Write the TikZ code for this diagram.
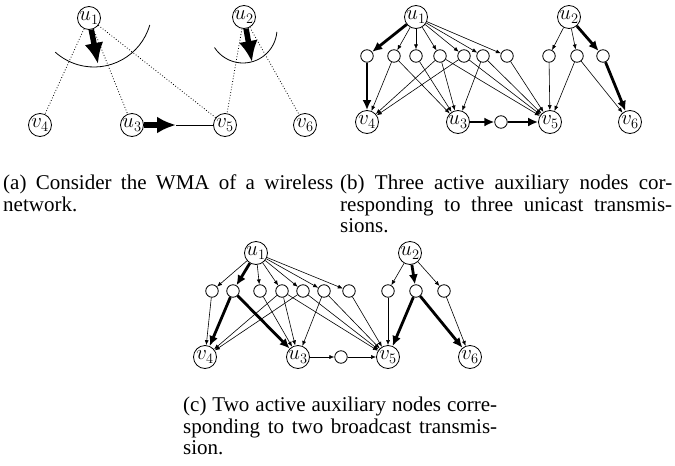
\documentclass[tikz,border=0pt]{standalone}
\usepackage[no-math]{fontspec}
\setmainfont{Liberation Serif}
\usetikzlibrary{arrows.meta}
\begin{document}
\begin{tikzpicture}[x=1pt,y=-1pt,
  mn/.style={circle, draw, line width=0.8pt, minimum size=23pt, inner sep=0pt, font=\fontsize{21}{22}\selectfont},
  ax/.style={circle, draw, line width=0.8pt, minimum size=12.5pt, inner sep=0pt},
  ed/.style={line width=0.6pt, -{Latex[length=5pt,width=4pt]}},
  tk/.style={line width=2.8pt, -{Latex[length=10pt,width=9pt]}},
  dt/.style={dotted, line width=0.8pt},
  bigarr/.style={line width=5.5pt, -{Latex[length=21pt,width=19pt]}},
  thinl/.style={line width=0.8pt},
  capt/.style={anchor=north west, inner sep=0pt, align=justify, font=\fontsize{21}{21.5}\selectfont}
]
\useasboundingbox[fill=white] (0,0) rectangle (675,466);

% ---------- panel (a) ----------
\node[mn] (a-u1) at (89,18) {$u_1$};
\node[mn] (a-u2) at (244,17) {$u_2$};
\node[mn] (a-v4) at (40,125) {$v_4$};
\node[mn] (a-u3) at (132,125) {$u_3$};
\node[mn] (a-v5) at (225,125) {$v_5$};
\node[mn] (a-v6) at (305,125) {$v_6$};
\draw[dt] (a-u1) -- (a-v4);
\draw[dt] (a-u1) -- (a-u3);
\draw[dt] (a-u1) -- (a-v5);
\draw[dt] (a-u2) -- (a-v5);
\draw[dt] (a-u2) -- (a-v6);
\draw[thinl] (94,9) ++(-16:58pt) arc[start angle=-16, end angle=-132, radius=58pt];
\draw[thinl] (243,29) ++(-5:34pt) arc[start angle=-5, end angle=-147, radius=34pt];
\coordinate (a-t1) at (98,64);
\coordinate (a-t2) at (252,62);
\coordinate (a-t3) at (176,125);
\draw[bigarr] (a-u1) -- (a-t1);
\draw[bigarr] (a-u2) -- (a-t2);
\draw[bigarr,-{Latex[length=19pt,width=17pt]}] (a-u3) -- (a-t3);
\draw[thinl] (a-t3) -- (a-v5);

% ---------- panel (b) ----------
\node[mn] (b-u1) at (416,17) {$u_1$};
\node[mn] (b-u2) at (569,17) {$u_2$};
\node[ax] (b-a1) at (367,56) {};
\node[ax] (b-a2) at (394,56) {};
\node[ax] (b-a3) at (416,56) {};
\node[ax] (b-a4) at (440,56) {};
\node[ax] (b-a5) at (464,56) {};
\node[ax] (b-a6) at (483,56) {};
\node[ax] (b-a7) at (507,56) {};
\node[ax] (b-b1) at (549,56) {};
\node[ax] (b-b2) at (577,56) {};
\node[ax] (b-b3) at (603,56) {};
\node[mn] (b-v4) at (367,122) {$v_4$};
\node[mn] (b-u3) at (458,122) {$u_3$};
\node[ax] (b-c)  at (501,122) {};
\node[mn] (b-v5) at (550,122) {$v_5$};
\node[mn] (b-v6) at (630,122) {$v_6$};
\foreach \i in {2,...,7} \draw[ed] (b-u1) -- (b-a\i);
\draw[tk] (b-u1) -- (b-a1);
\draw[tk] (b-a1) -- (b-v4);
\foreach \s/\t in {a2/v4, a2/u3, a3/u3, a4/v4, a4/u3, a4/v5, a5/v4, a5/v5, a6/u3, a6/v5, a7/v5, b1/v5, b2/v5, b2/v6}
  \draw[ed] (b-\s) -- (b-\t);
\draw[ed] (b-u2) -- (b-b1);
\draw[ed] (b-u2) -- (b-b2);
\draw[tk] (b-u2) -- (b-b3);
\draw[tk] (b-b3) -- (b-v6);
\draw[tk] (b-u3) -- (b-c);
\draw[tk] (b-c) -- (b-v5);

% ---------- panel (c) ----------
\node[mn] (c-u1) at (256,253) {$u_1$};
\node[mn] (c-u2) at (410,253) {$u_2$};
\node[ax] (c-a1) at (212,291) {};
\node[ax] (c-a2) at (233,291) {};
\node[ax] (c-a3) at (260,291) {};
\node[ax] (c-a4) at (282,291) {};
\node[ax] (c-a5) at (303,291) {};
\node[ax] (c-a6) at (324,291) {};
\node[ax] (c-a7) at (349,291) {};
\node[ax] (c-b1) at (388,291) {};
\node[ax] (c-b2) at (416,291) {};
\node[ax] (c-b3) at (444,291) {};
\node[mn] (c-v4) at (205,357) {$v_4$};
\node[mn] (c-u3) at (298,357) {$u_3$};
\node[ax] (c-c)  at (341,357) {};
\node[mn] (c-v5) at (388,357) {$v_5$};
\node[mn] (c-v6) at (470,357) {$v_6$};
\foreach \i in {1,3,4,5,6,7} \draw[ed] (c-u1) -- (c-a\i);
\draw[tk] (c-u1) -- (c-a2);
\draw[tk] (c-a2) -- (c-v4);
\draw[tk] (c-a2) -- (c-u3);
\foreach \s/\t in {a1/v4, a3/u3, a4/v4, a4/u3, a4/v5, a5/v4, a5/v5, a6/u3, a6/v5, a7/v5, b1/v5, b3/v6, u2/b1, u2/b3, u3/c, c/v5}
  \draw[ed] (c-\s) -- (c-\t);
\draw[tk] (c-u2) -- (c-b2);
\draw[tk] (c-b2) -- (c-v5);
\draw[tk] (c-b2) -- (c-v6);

% ---------- captions ----------
\node[capt, text width=330pt] (capa) at (3,175) {(a) Consider the WMA of a wireless\linebreak network.};
\node[capt, text width=332pt] (capb) at (340,175) {(b) Three active auxiliary nodes cor-\linebreak responding to three unicast transmis-\linebreak sions.};
\node[capt, text width=314pt] (capc) at (183,397) {(c) Two active auxiliary nodes corre-\linebreak sponding to two broadcast transmis-\linebreak sion.};
\end{tikzpicture}
\end{document}
